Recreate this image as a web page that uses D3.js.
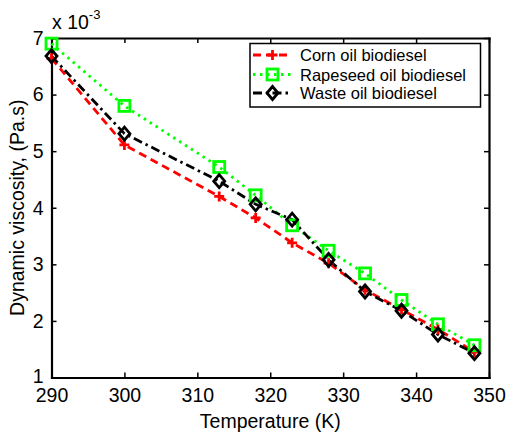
<!DOCTYPE html>
<html><head><meta charset="utf-8">
<script src="https://cdn.jsdelivr.net/npm/d3@7"></script>
<style>body{margin:0;background:#fff}svg{display:block;font-family:"Liberation Sans",Arial,sans-serif}</style>
</head><body><svg id="c" width="508" height="434"></svg>
<script>
const temps = [290,300,313,318,323,328,333,338,343,348];
const corn = [6.64,5.11,4.20,3.82,3.38,3.02,2.55,2.20,1.85,1.45];
const rapeseed = [6.90,5.80,4.72,4.22,3.69,3.24,2.84,2.37,1.94,1.57];
const waste = [6.68,5.31,4.47,4.06,3.79,3.08,2.52,2.18,1.76,1.43];
const xTicks = [290,300,310,320,330,340,350];
const yTicks = [1,2,3,4,5,6,7];
const names = ["Corn oil biodiesel","Rapeseed oil biodiesel","Waste oil biodiesel"];

const svg = d3.select("#c");
const L=51.5,R=489,T=38,B=377.5;
const x = d3.scaleLinear().domain([290,350]).range([L,R]);
const y = d3.scaleLinear().domain([1,7]).range([B,T]);

const fs = 19.5;
const ax = svg.append("g");
ax.append("g").attr("transform",`translate(0,${B})`).call(d3.axisBottom(x).tickValues(xTicks).tickFormat(d3.format("d")).tickSizeInner(-5).tickSizeOuter(0).tickPadding(10.5));
ax.append("g").attr("transform",`translate(0,${T})`).call(d3.axisTop(x).tickValues(xTicks).tickSizeInner(-5).tickSizeOuter(0).tickFormat(""));
const yAxG = ax.append("g").attr("transform",`translate(${L},0)`).call(d3.axisLeft(y).tickValues(yTicks).tickFormat(d3.format("d")).tickSizeInner(-5).tickSizeOuter(0).tickPadding(8));
ax.append("g").attr("transform",`translate(${R},0)`).call(d3.axisRight(y).tickValues(yTicks).tickSizeInner(-5).tickSizeOuter(0).tickFormat(""));
ax.selectAll(".domain").attr("stroke","#000").attr("stroke-width",2.2).attr("stroke-linecap","square");
ax.selectAll(".tick line").attr("stroke","#000").attr("stroke-width",1.5);
ax.selectAll(".tick text").attr("font-size",fs).attr("font-family","Liberation Sans, Arial, sans-serif").attr("fill","#000");
// MATLAB places the lowest y label slightly raised so it sits above the x labels
yAxG.selectAll(".tick text").filter(d=>d===1).attr("dy","0.25em");

svg.append("text").attr("x",(L+R)/2).attr("y",428).attr("text-anchor","middle").attr("font-size",fs).text("Temperature (K)");
svg.append("text").attr("transform",`translate(23.5,${(T+B)/2}) rotate(-90)`).attr("text-anchor","middle").attr("font-size",fs).text("Dynamic viscosity, (Pa.s)");
const ex = svg.append("text").attr("x",52).attr("y",29).attr("font-size",fs);
ex.append("tspan").text("x 10");
ex.append("tspan").attr("dy",-10).attr("font-size",13).text("-3");

const series = [
  {vals:corn,color:"#ff0000",dash:"8,5",marker:"plus"},
  {vals:rapeseed,color:"#00ff00",dash:"2.5,4.5",marker:"square"},
  {vals:waste,color:"#000000",dash:"9,4,2.5,4",marker:"diamond"}
];
const line = d3.line().x(d=>x(d[0])).y(d=>y(d[1]));

function drawMarker(g,type,cx,cy,color){
  if(type==="plus"){
    g.append("path").attr("d",`M${cx-5},${cy}H${cx+5}M${cx},${cy-5}V${cy+5}`).attr("stroke",color).attr("stroke-width",2.8).attr("fill","none");
  } else if(type==="square"){
    g.append("rect").attr("x",cx-5.5).attr("y",cy-5.5).attr("width",11).attr("height",11).attr("fill","none").attr("stroke",color).attr("stroke-width",2.8);
  } else {
    g.append("path").attr("d",`M${cx},${cy-6.5}L${cx+5.5},${cy}L${cx},${cy+6.5}L${cx-5.5},${cy}Z`).attr("fill","none").attr("stroke",color).attr("stroke-width",2.8);
  }
}

const plot = svg.append("g");
series.forEach(s=>{
  const pts = temps.map((t,i)=>[t,s.vals[i]]);
  plot.append("path").attr("d",line(pts)).attr("fill","none").attr("stroke",s.color).attr("stroke-width",2.8).attr("stroke-dasharray",s.dash);
});
series.forEach(s=>{
  const g = plot.append("g");
  temps.forEach((t,i)=>drawMarker(g,s.marker,x(t),y(s.vals[i]),s.color));
});

const lg = svg.append("g");
lg.append("rect").attr("x",250).attr("y",43.5).attr("width",230.5).attr("height",63.5).attr("fill","#fff").attr("stroke","#000").attr("stroke-width",1.5);
const rowsY=[55,74.5,93];
series.forEach((s,i)=>{
  lg.append("line").attr("x1",253).attr("x2",292).attr("y1",rowsY[i]).attr("y2",rowsY[i]).attr("stroke",s.color).attr("stroke-width",2.8).attr("stroke-dasharray",s.dash);
  drawMarker(lg,s.marker,272.5,rowsY[i],s.color);
  lg.append("text").attr("x",300).attr("y",rowsY[i]+6).attr("font-size",16.5).text(names[i]);
});
</script></body></html>
